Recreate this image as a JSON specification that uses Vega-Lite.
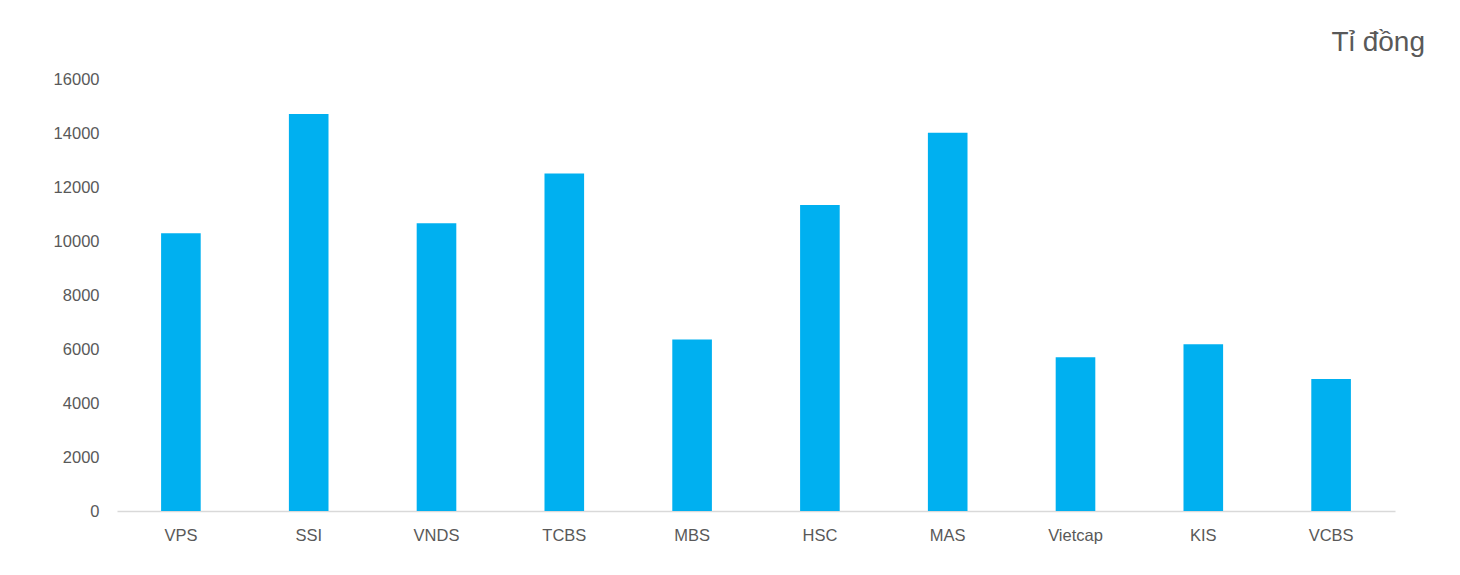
{
  "$schema": "https://vega.github.io/schema/vega-lite/v6.json",
  "autosize": "none",
  "width": 1278,
  "height": 432,
  "padding": {"left": 117, "top": 79, "right": 65, "bottom": 64},
  "background": "white",
  "title": {
    "text": "Tỉ đồng",
    "anchor": "end",
    "font": "Liberation Sans",
    "fontSize": 28,
    "fontWeight": "normal",
    "color": "#595959",
    "dx": 30,
    "offset": 14
  },
  "data": {
    "values": [
      {"company": "VPS", "value": 10290},
      {"company": "SSI", "value": 14700},
      {"company": "VNDS", "value": 10660},
      {"company": "TCBS", "value": 12500},
      {"company": "MBS", "value": 6350},
      {"company": "HSC", "value": 11330},
      {"company": "MAS", "value": 14010},
      {"company": "Vietcap", "value": 5695},
      {"company": "KIS", "value": 6180},
      {"company": "VCBS", "value": 4890}
    ]
  },
  "mark": {"type": "bar", "color": "#00B0F0"},
  "encoding": {
    "x": {
      "field": "company",
      "type": "nominal",
      "sort": null,
      "scale": {"paddingInner": 0.69, "paddingOuter": 0.345},
      "axis": {
        "title": null,
        "labelAngle": 0,
        "labelFont": "Liberation Sans",
        "labelFontSize": 16.5,
        "labelColor": "#595959",
        "labelPadding": 16,
        "ticks": false,
        "domainColor": "#D9D9D9",
        "domainWidth": 1.5
      }
    },
    "y": {
      "field": "value",
      "type": "quantitative",
      "scale": {"domain": [0, 16000], "nice": false},
      "axis": {
        "title": null,
        "values": [0, 2000, 4000, 6000, 8000, 10000, 12000, 14000, 16000],
        "format": "d",
        "grid": false,
        "domain": false,
        "ticks": false,
        "labelFont": "Liberation Sans",
        "labelFontSize": 16.5,
        "labelColor": "#595959",
        "labelPadding": 18
      }
    }
  },
  "config": {
    "view": {"stroke": null}
  }
}
